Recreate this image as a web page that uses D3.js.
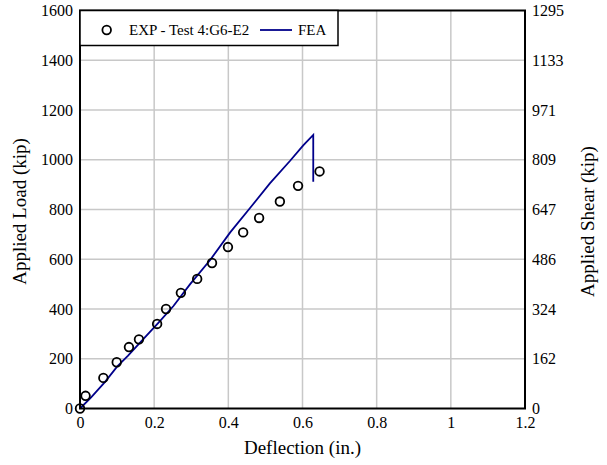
<!DOCTYPE html>
<html><head><meta charset="utf-8">
<script src="https://cdn.jsdelivr.net/npm/d3@7"></script>
<style>body{margin:0;background:#fff}svg{display:block}</style>
</head><body><svg id="c" width="607" height="465"></svg>
<script>
const expDeflection = [0,0.015,0.063,0.099,0.132,0.159,0.208,0.232,0.272,0.316,0.356,0.399,0.44,0.483,0.539,0.588,0.646];
const expLoad = [0,51,123,186,247,278,340,400,465,521,585,649,708,766,832,895,953];
const feaDeflection = [0,0.03,0.067,0.1,0.129,0.17,0.21,0.252,0.297,0.351,0.405,0.458,0.512,0.566,0.602,0.629,0.629];
const feaLoad = [0,45,106,168,212,278,342,412,500,597,708,805,905,995,1058,1100,912];
const xTicks = [0,0.2,0.4,0.6,0.8,1,1.2];
const yTicks = [0,200,400,600,800,1000,1200,1400,1600];
const y2Labels = ["0","162","324","486","647","809","971","1133","1295"];
const seriesNames = ["EXP - Test 4:G6-E2","FEA"];

const svg = d3.select("#c");
const L=80,R=525,T=10.5,B=408.5;
const x = d3.scaleLinear().domain([0,1.2]).range([L,R]);
const y = d3.scaleLinear().domain([0,1600]).range([B,T]);

// grid
svg.append("g").selectAll("line").data(xTicks.slice(1,-1)).join("line")
  .attr("x1",d=>x(d)).attr("x2",d=>x(d)).attr("y1",T).attr("y2",B)
  .attr("stroke","#c8c8c8").attr("stroke-width",1.5);
svg.append("g").selectAll("line").data(yTicks.slice(1,-1)).join("line")
  .attr("y1",d=>y(d)).attr("y2",d=>y(d)).attr("x1",L).attr("x2",R)
  .attr("stroke","#c8c8c8").attr("stroke-width",1.5);

// axes (labels only)
const ax = d3.axisBottom(x).tickValues(xTicks).tickFormat(d3.format("")).tickSize(0).tickPadding(8);
const gx = svg.append("g").attr("transform",`translate(0,${B})`).call(ax);
const ayL = d3.axisLeft(y).tickValues(yTicks).tickFormat(d3.format("")).tickSize(0).tickPadding(7);
const gy = svg.append("g").attr("transform",`translate(${L},0)`).call(ayL);
const ayR = d3.axisRight(y).tickValues(yTicks).tickFormat((d,i)=>y2Labels[i]).tickSize(0).tickPadding(7);
const gy2 = svg.append("g").attr("transform",`translate(${R},0)`).call(ayR);
[gx,gy,gy2].forEach(g=>{g.select(".domain").remove();g.selectAll("text").attr("fill","#000").attr("font-size",16);});

// FEA line
const pts = feaDeflection.map((d,i)=>[d,feaLoad[i]]);
svg.append("path").datum(pts)
  .attr("d",d3.line().x(d=>x(d[0])).y(d=>y(d[1])))
  .attr("fill","none").attr("stroke","#00008b").attr("stroke-width",1.8);

// EXP markers
svg.append("g").selectAll("circle").data(expDeflection.map((d,i)=>[d,expLoad[i]])).join("circle")
  .attr("cx",d=>x(d[0])).attr("cy",d=>y(d[1])).attr("r",4.3)
  .attr("fill","none").attr("stroke","#000").attr("stroke-width",1.8);

// frame
svg.append("rect").attr("x",L).attr("y",T).attr("width",R-L).attr("height",B-T)
  .attr("fill","none").attr("stroke","#000").attr("stroke-width",2);

// legend
const lg = svg.append("g");
lg.append("rect").attr("x",L).attr("y",T).attr("width",258).attr("height",35)
  .attr("fill","#fff").attr("stroke","#000").attr("stroke-width",1.5);
lg.append("circle").attr("cx",106.7).attr("cy",30).attr("r",4.3).attr("fill","none").attr("stroke","#000").attr("stroke-width",1.8);
lg.append("text").attr("x",129).attr("y",30).attr("dy","0.35em").attr("font-size",15).text(seriesNames[0]);
lg.append("line").attr("x1",260).attr("x2",292).attr("y1",30).attr("y2",30).attr("stroke","#00008b").attr("stroke-width",1.8);
lg.append("text").attr("x",298).attr("y",30).attr("dy","0.35em").attr("font-size",15).text(seriesNames[1]);

// titles
svg.append("text").attr("x",(L+R)/2).attr("y",454).attr("text-anchor","middle").attr("font-size",19).text("Deflection (in.)");
svg.append("text").attr("transform",`translate(26,${(T+B)/2+2}) rotate(-90)`).attr("text-anchor","middle").attr("font-size",19).text("Applied Load (kip)");
svg.append("text").attr("transform",`translate(594,${(T+B)/2+12}) rotate(-90)`).attr("text-anchor","middle").attr("font-size",19).text("Applied Shear (kip)");

svg.selectAll("text").attr("font-family","\"Liberation Serif\"");
</script></body></html>
